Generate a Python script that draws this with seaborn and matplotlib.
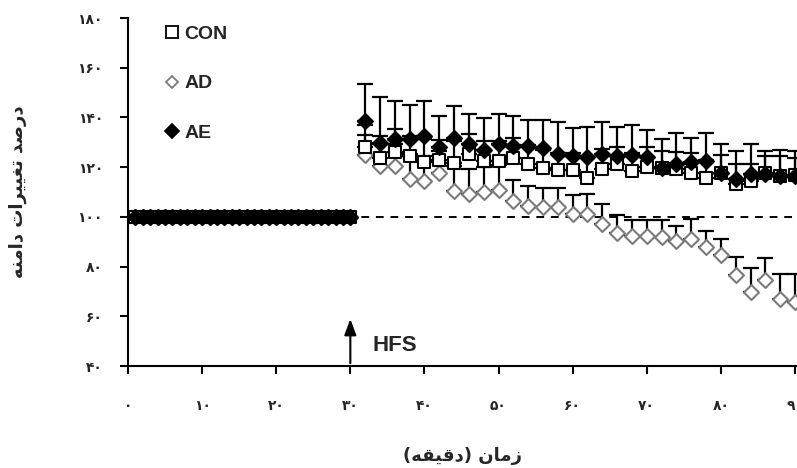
import matplotlib
matplotlib.use('Agg')
import matplotlib.pyplot as plt
from matplotlib.lines import Line2D
from matplotlib.font_manager import FontProperties
import numpy as np
import pandas as pd
import seaborn as sns

# ---------------- data ----------------
base_time = [1, 2, 3, 4, 5, 6, 7, 8, 9, 10, 11, 12, 13, 14, 15,
             16, 17, 18, 19, 20, 21, 22, 23, 24, 25, 26, 27, 28, 29, 30]
base_value = [100, 100, 100, 100, 100, 100, 100, 100, 100, 100,
              100, 100, 100, 100, 100, 100, 100, 100, 100, 100,
              100, 100, 100, 100, 100, 100, 100, 100, 100, 100]

post_time = [32, 34, 36, 38, 40, 42, 44, 46, 48, 50, 52, 54, 56, 58, 60,
             62, 64, 66, 68, 70, 72, 74, 76, 78, 80, 82, 84, 86, 88, 90]

con_value = [128.0, 123.5, 126.2, 124.5, 122.2, 122.9, 121.6, 125.2, 122.5, 122.5,
             123.8, 121.1, 119.8, 118.8, 118.8, 115.8, 119.4, 121.2, 118.6, 120.2,
             119.6, 119.2, 117.8, 115.8, 117.8, 113.2, 114.4, 117.6, 116.5, 116.7]
con_err = [9, 9, 9, 8, 9, 8, 9, 8, 8, 8, 8, 8, 7, 7, 7,
           8, 8, 7, 7, 8, 7, 7, 8, 7, 7, 8, 7, 7, 8, 7]

ad_value = [124.8, 120.3, 120.5, 115.2, 114.3, 117.6, 110.6, 109.1, 110.0, 110.7,
            106.2, 104.4, 104.0, 104.0, 101.0, 101.1, 97.1, 93.7, 92.2, 92.4,
            92.0, 90.1, 91.0, 87.7, 84.5, 76.6, 69.7, 74.5, 66.9, 65.8]
ad_err = [8, 9, 9, 10, 10, 9, 10, 10, 10, 10, 8.6, 8.1, 7.8, 7.5, 7.9,
          7.9, 7.9, 7.0, 6.6, 6.4, 6.8, 6.3, 8.0, 6.7, 6.5, 7.3, 9.9, 8.9, 10.3, 11.1]

ae_value = [138.5, 129.7, 131.2, 131.4, 132.7, 128.3, 131.9, 129.2, 126.7, 129.3,
            128.5, 128.5, 127.8, 125.4, 124.4, 124.2, 125.2, 124.6, 124.8, 124.0,
            119.8, 121.2, 121.9, 122.5, 117.8, 115.2, 117.4, 117.2, 116.5, 116.5]
ae_err = [15.0, 18.6, 15.5, 13.6, 14.0, 12.3, 12.5, 12.1, 13.0, 12.0,
          12.1, 10.4, 11.1, 12.6, 11.3, 12.1, 12.8, 11.4, 12.1, 11.0,
          11.7, 12.7, 9.8, 11.4, 11.4, 11.1, 12.1, 9.4, 10.3, 10.1]

groups = ['CON', 'AD', 'AE']
y_ticks = [40, 60, 80, 100, 120, 140, 160, 180]
x_ticks = [0, 10, 20, 30, 40, 50, 60, 70, 80, 90]
hfs_time = 30
baseline_level = 100
ylabel_fa = 'درصد تغییرات دامنه'
xlabel_fa = 'زمان (دقیقه)'

# ---------------- helpers: Persian shaping (no shaping engine in mpl) ----------------
FORMS = {
    'ا': ('\uFE8D', '\uFE8E', None, None),
    'ت': ('\uFE95', '\uFE96', '\uFE97', '\uFE98'),
    'د': ('\uFEA9', '\uFEAA', None, None),
    'ر': ('\uFEAD', '\uFEAE', None, None),
    'ز': ('\uFEAF', '\uFEB0', None, None),
    'ص': ('\uFEB9', '\uFEBA', '\uFEBB', '\uFEBC'),
    'غ': ('\uFECD', '\uFECE', '\uFECF', '\uFED0'),
    'ق': ('\uFED5', '\uFED6', '\uFED7', '\uFED8'),
    'م': ('\uFEE1', '\uFEE2', '\uFEE3', '\uFEE4'),
    'ن': ('\uFEE5', '\uFEE6', '\uFEE7', '\uFEE8'),
    'ه': ('\uFEE9', '\uFEEA', '\uFEEB', '\uFEEC'),
    'ی': ('\uFBFC', '\uFBFD', '\uFEF3', '\uFEF4'),
}


def shape_fa(s):
    out = []
    n = len(s)
    for i, ch in enumerate(s):
        if ch not in FORMS:
            out.append(ch)
            continue
        iso, fin, ini, med = FORMS[ch]
        prev = s[i - 1] if i > 0 else ''
        nxt = s[i + 1] if i < n - 1 else ''
        jp = prev in FORMS and FORMS[prev][2] is not None
        jn = ini is not None and nxt in FORMS
        if jp and jn:
            out.append(med)
        elif jp:
            out.append(fin)
        elif jn:
            out.append(ini)
        else:
            out.append(iso)
    vis = ''.join(reversed(out))
    vis = vis.translate(str.maketrans({'(': ')', ')': '('}))
    return vis


FA_DIGITS = str.maketrans('0123456789', '۰۱۲۳۴۵۶۷۸۹')


def fa_num(v):
    return str(v).translate(FA_DIGITS)


# ---------------- dataframe ----------------
rows = []
for g, vals, errs in [('CON', con_value, con_err), ('AD', ad_value, ad_err), ('AE', ae_value, ae_err)]:
    for t, v in zip(base_time, base_value):
        rows.append((g, t, v, 0.0))
    for t, v, e in zip(post_time, vals, errs):
        rows.append((g, t, v, e))
df = pd.DataFrame(rows, columns=['group', 'time', 'value', 'err'])

# ---------------- figure ----------------
sns.set_theme(style='ticks')
plt.rcParams['font.family'] = ['DejaVu Sans']

fig = plt.figure(figsize=(7.97, 4.68), dpi=100)
ax = fig.add_axes([128 / 797, 1 - 366 / 468, 669 / 797, 348 / 468])

styles = {
    'CON': dict(marker='s', face='white', edge='black', ms=80, z=5),
    'AD': dict(marker='D', face='white', edge='#7a7a7a', ms=58, z=3),
    'AE': dict(marker='D', face='black', edge='black', ms=58, z=7),
}

# dashed reference line
ax.axhline(baseline_level, color='black', lw=1.4, ls=(0, (4, 3.5)), zorder=1)

for g in ['AD', 'CON', 'AE']:
    st = styles[g]
    sub = df[df.group == g]
    post = sub[sub.err > 0]
    ax.errorbar(post.time, post.value, yerr=[np.zeros(len(post)), post.err],
                fmt='none', ecolor='black', elinewidth=1.6, capsize=6, capthick=1.6,
                zorder=st['z'] - 1)
    sns.scatterplot(data=sub, x='time', y='value', ax=ax, marker=st['marker'],
                    s=st['ms'], color=st['face'], edgecolor=st['edge'], linewidth=1.5,
                    zorder=st['z'], legend=False)

ax.set_xlim(0, 90.27)
ax.set_ylim(40, 180)
ax.set_xticks(x_ticks)
ax.set_yticks(y_ticks)
ax.set_xticklabels([fa_num(v) for v in x_ticks], fontsize=10, fontweight='bold')
ax.set_yticklabels([fa_num(v) for v in y_ticks], fontsize=10, fontweight='bold')
ax.tick_params(axis='both', direction='out', length=6, width=1.5, color='black')
ax.tick_params(axis='x', pad=18)
ax.tick_params(axis='y', pad=12)
for sp in ['top', 'right']:
    ax.spines[sp].set_visible(False)
for sp in ['left', 'bottom']:
    ax.spines[sp].set_linewidth(1.5)
    ax.spines[sp].set_color('black')

ax.set_xlabel(shape_fa(xlabel_fa), fontsize=13, fontweight='bold', labelpad=24)
ax.set_ylabel(shape_fa(ylabel_fa), fontsize=13, fontweight='bold', labelpad=36)
ax.set_facecolor('white')
fig.patch.set_facecolor('white')

# HFS arrow
ax.annotate('', xy=(hfs_time, 60), xytext=(hfs_time, 40),
            arrowprops=dict(arrowstyle='-|>,head_width=0.3,head_length=0.8', color='black', lw=1.5),
            zorder=8)
ax.text(hfs_time + 3, 46, 'HFS', fontsize=16, fontweight='bold',
        family=['Liberation Sans', 'DejaVu Sans'], va='baseline', ha='left')

# legend
handles = [
    Line2D([], [], ls='none', marker='s', ms=9, mfc='white', mec='black', mew=1.3),
    Line2D([], [], ls='none', marker='D', ms=6.5, mfc='white', mec='#7a7a7a', mew=1.3),
    Line2D([], [], ls='none', marker='D', ms=7, mfc='black', mec='black', mew=1.3),
]
leg = ax.legend(handles, groups, loc='upper left', bbox_to_anchor=(0.03, 1.03),
                frameon=False, labelspacing=1.65, handlelength=0.7, handletextpad=0.25,
                prop=FontProperties(family='Liberation Sans', weight='bold', size=14))

fig.savefig('out.png', dpi=100, facecolor='white')
